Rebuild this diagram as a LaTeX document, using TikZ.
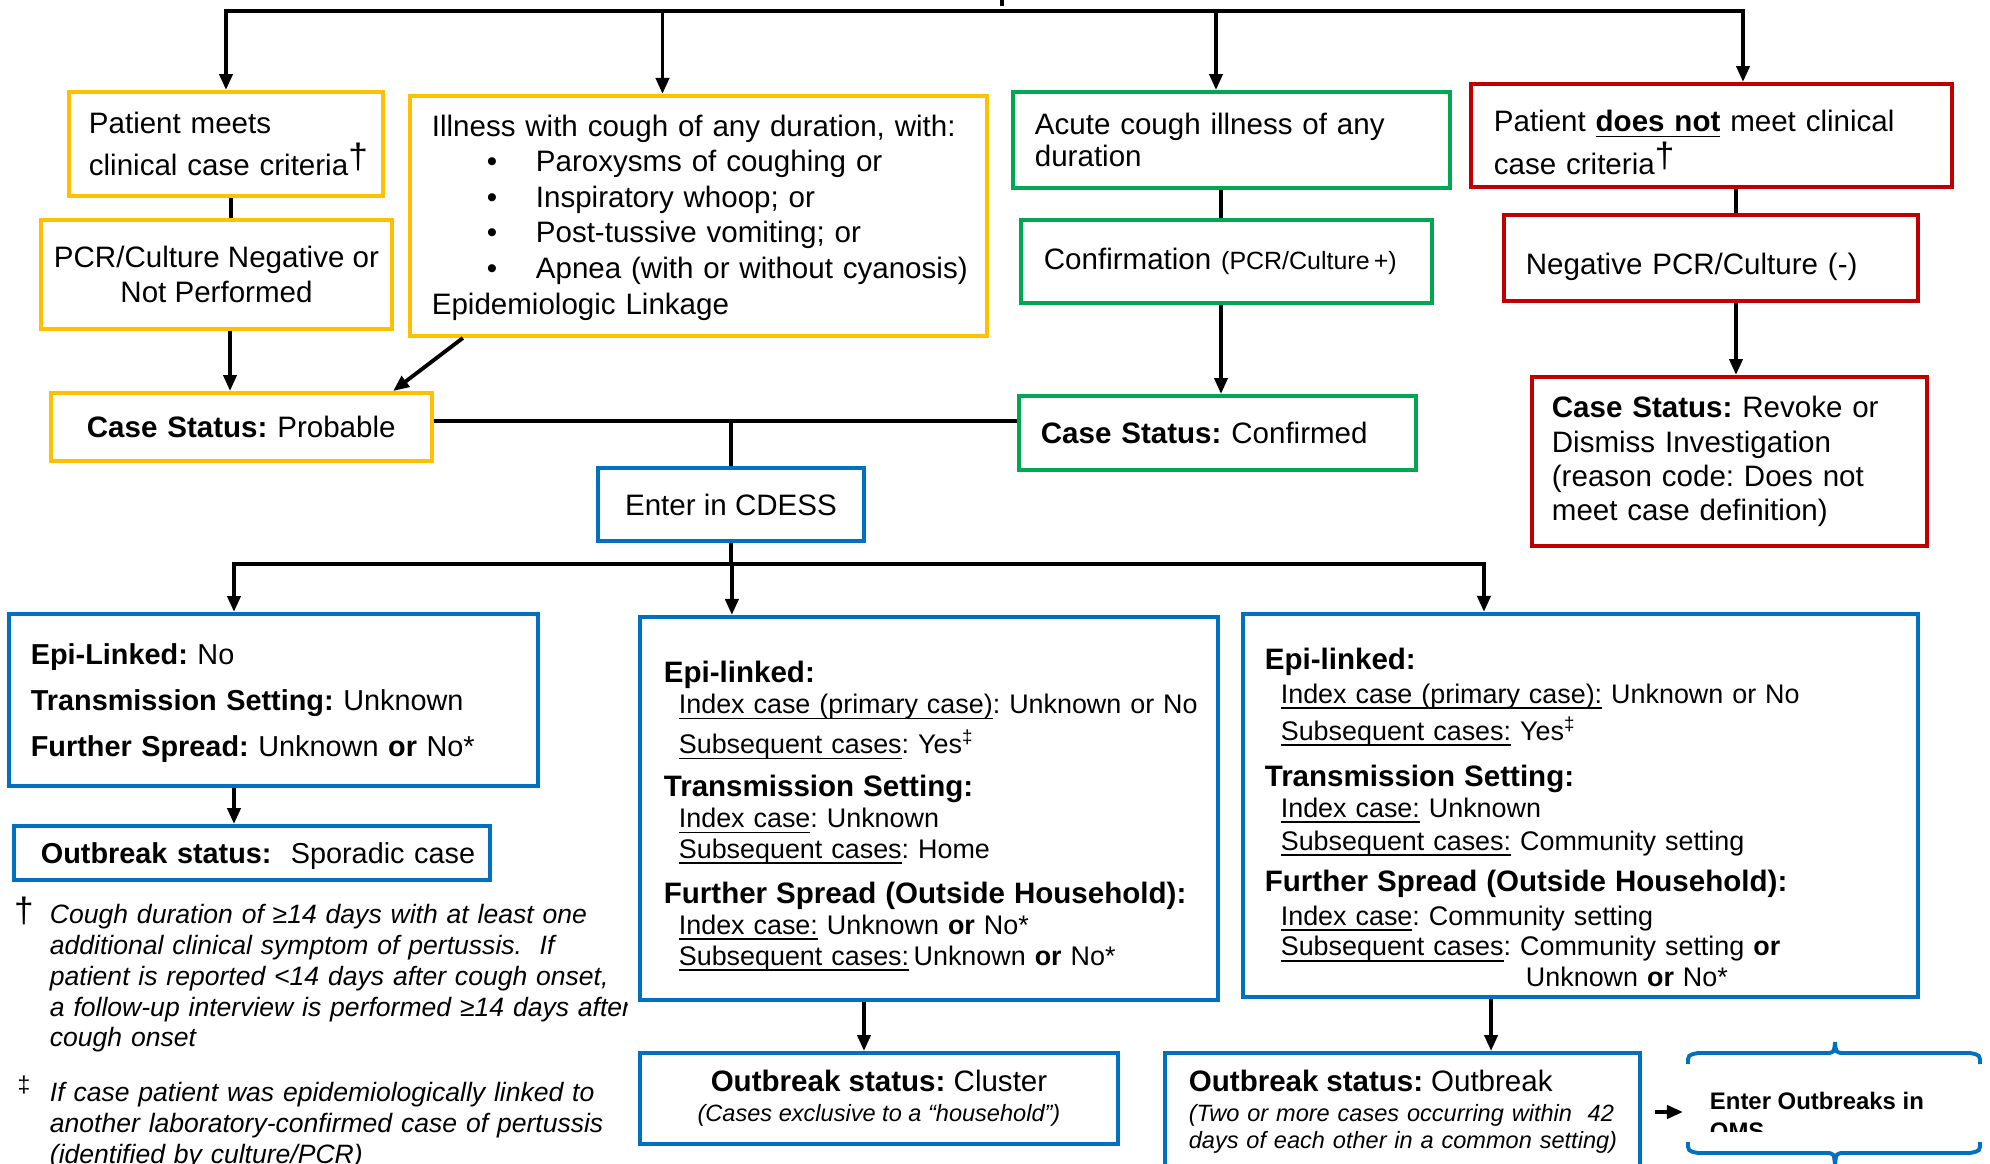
\documentclass[tikz,border=0pt]{standalone}
\usepackage{fontspec}
\setmainfont{Liberation Sans}
\usetikzlibrary{arrows.meta}
\definecolor{gold}{HTML}{FFC000}
\definecolor{okgreen}{HTML}{00A651}
\definecolor{darkred}{HTML}{C00000}
\definecolor{cdblue}{HTML}{0070C0}
\frenchspacing

\begin{document}
\begin{tikzpicture}[x=0.01cm, y=-0.01cm, line width=1.1pt,
    >={Triangle[length=.16cm,width=.13cm]},
    cbox/.style={draw, inner sep=0pt, align=left, font=\fontsize{8.4}{10}\selectfont},
    boxsize/.style 2 args={minimum width=#1, text width=#1, minimum height=#2},
    lpad/.style={execute at begin node={\leftskip=#1}},
    yellowbox/.style={cbox, draw=gold},
    greenbox/.style={cbox, draw=okgreen},
    redbox/.style={cbox, draw=darkred},
    bluebox/.style={cbox, draw=cdblue},
    note/.style={inner sep=0pt, anchor=north west, align=left, text width=7cm,
      font=\itshape\fontsize{7.55}{8.8}\selectfont}]
  \useasboundingbox (0,0) rectangle (1990,1164);
  \clip (0,0) rectangle (1990,1164);

  \node[yellowbox, boxsize={3.14cm}{1.04cm}, lpad=.2cm, font=\fontsize{8.4}{11.7}\selectfont] (meets) at (226,144)
    {Patient meets\\clinical case criteria\raisebox{.07cm}{\fontsize{10}{10}\selectfont †}};
  \node[yellowbox, boxsize={5.77cm}{2.40cm}, lpad=.22cm, font=\fontsize{8.4}{10.1}\selectfont] (illness) at (698.5,216)
    {\rule{0pt}{7pt}Illness with cough of any duration, with:\\
     \hspace*{.55cm}\makebox[.49cm][l]{•}Paroxysms of coughing or\\
     \hspace*{.55cm}\makebox[.49cm][l]{•}Inspiratory whoop; or\\
     \hspace*{.55cm}\makebox[.49cm][l]{•}Post-tussive vomiting; or\\
     \hspace*{.55cm}\makebox[.49cm][l]{•}Apnea (with or without cyanosis)\\
     Epidemiologic Linkage};
  \node[yellowbox, minimum width=3.51cm, minimum height=1.09cm, align=center, font=\fontsize{8.4}{9.7}\selectfont] (pcr) at (216.5,274.5)
    {PCR/Culture Negative or\\Not Performed};
  \node[yellowbox, boxsize={3.81cm}{.68cm}, lpad=.36cm] (probable) at (241.5,427)
    {\textbf{Case Status:} Probable};
  \node[bluebox, minimum width=2.66cm, minimum height=.73cm, align=center] (cdess) at (731,504.5)
    {Enter in CDESS};

  \node[greenbox, boxsize={4.37cm}{.96cm}, lpad=.22cm, font=\fontsize{8.4}{9.1}\selectfont] (acute) at (1231.5,140)
    {Acute cough illness of any\\duration};
  \node[greenbox, boxsize={4.11cm}{.83cm}, lpad=.23cm] (confirmation) at (1226.5,261.5)
    {Confirmation {\fontsize{7.1}{8}\selectfont(PCR/Culture\,+)}};
  \node[greenbox, boxsize={3.97cm}{.74cm}, lpad=.22cm] (confirmed) at (1217.5,433)
    {\textbf{Case Status:} Confirmed};

  \node[redbox, boxsize={4.81cm}{1.03cm}, lpad=.23cm, font=\fontsize{8.4}{10.8}\selectfont] (notmeet) at (1711.5,135.5)
    {\rule{0pt}{10pt}Patient \underline{\smash{\textbf{does not}}} meet clinical\\case criteria\raisebox{.07cm}{\fontsize{10}{10}\selectfont †}};
  \node[redbox, boxsize={4.14cm}{.86cm}, lpad=.22cm] (negative) at (1711,258)
    {\rule{0pt}{11pt}Negative PCR/Culture (-)};
  \node[redbox, boxsize={3.95cm}{1.69cm}, lpad=.2cm, font=\fontsize{8.4}{9.7}\selectfont] (revoke) at (1729.5,461.5)
    {\textbf{Case Status:} Revoke or\\Dismiss Investigation\\(reason code: Does not\\meet case definition)};

  \node[bluebox, boxsize={5.29cm}{1.72cm}, lpad=.22cm, font=\fontsize{8.2}{13.1}\selectfont] (nolink) at (273.5,700)
    {\rule{0pt}{7.5pt}\textbf{Epi-Linked:} No\\\textbf{Transmission Setting:} Unknown\\\textbf{Further Spread:} Unknown \textbf{or} No*};
  \node[bluebox, boxsize={4.76cm}{.54cm}, lpad=.27cm, font=\fontsize{8.2}{10}\selectfont] (sporadic) at (252,853)
    {\rule{0pt}{7.5pt}\textbf{Outbreak status:}\ \ Sporadic case};

  \node[bluebox, boxsize={5.78cm}{3.83cm}, lpad=.24cm, font=\fontsize{7.65}{8.8}\selectfont] (household) at (929,808.5)
    {\rule{0pt}{10.7pt}{\bfseries\fontsize{8.4}{8.8}\selectfont Epi-linked:}\\
     \hspace*{.15cm}\underline{\smash{Index case (primary case)}}: Unknown or No\\[2.6pt]
     \hspace*{.15cm}\underline{\smash{Subsequent cases}}: Yes\textsuperscript{‡}\\[3.4pt]
     {\bfseries\fontsize{8.4}{8.8}\selectfont Transmission Setting:}\\
     \hspace*{.15cm}\underline{\smash{Index case}}: Unknown\\
     \hspace*{.15cm}\underline{\smash{Subsequent cases}}: Home\\[4pt]
     {\bfseries\fontsize{8.4}{8.8}\selectfont Further Spread (Outside Household):}\\
     \hspace*{.15cm}\underline{\smash{Index case:}} Unknown \textbf{or} No*\\
     \hspace*{.15cm}\underline{\smash{Subsequent cases:}}\,Unknown \textbf{or} No*};
  \node[bluebox, boxsize={6.75cm}{3.83cm}, lpad=.22cm, font=\fontsize{7.65}{8.8}\selectfont] (community) at (1580.5,805.5)
    {\rule{0pt}{12.9pt}{\bfseries\fontsize{8.4}{8.8}\selectfont Epi-linked:}\\[.85pt]
     \hspace*{.16cm}\underline{\smash{Index case (primary case):}} Unknown or No\\[1.7pt]
     \hspace*{.16cm}\underline{\smash{Subsequent cases:}} Yes\textsuperscript{‡}\\[4.3pt]
     {\bfseries\fontsize{8.4}{8.8}\selectfont Transmission Setting:}\\
     \hspace*{.16cm}\underline{\smash{Index case:}} Unknown\\[.6pt]
     \hspace*{.16cm}\underline{\smash{Subsequent cases:}} Community setting\\[3.1pt]
     {\bfseries\fontsize{8.4}{8.8}\selectfont Further Spread (Outside Household):}\\[.6pt]
     \hspace*{.16cm}\underline{\smash{Index case}}: Community setting\\
     \hspace*{.16cm}\underline{\smash{Subsequent cases}}: Community setting \textbf{or}\\
     \hspace*{2.61cm}Unknown \textbf{or} No*};

  \node[bluebox, minimum width=4.78cm, minimum height=.91cm, align=center, font=\fontsize{8.4}{8.5}\selectfont] (cluster) at (879,1098.5)
    {\textbf{Outbreak status:} Cluster\\{\itshape\fontsize{6.7}{8}\selectfont (Cases exclusive to a “household”)}};
  \node[bluebox, boxsize={4.75cm}{1.18cm}, lpad=.24cm, font=\itshape\fontsize{6.7}{7.7}\selectfont] (outbreak) at (1402.5,1112)
    {{\upshape\fontsize{8.4}{7.7}\selectfont\textbf{Outbreak status:} Outbreak}\\[.8pt]
     (Two or more cases occurring within\ \ 42\\days of each other in a common setting)};

  \begin{scope}
    \clip (1688,1043) rectangle (1980,1131);
    \node[inner sep=0pt, anchor=north west, align=left, font=\bfseries\fontsize{6.8}{8.5}\selectfont] (oms) at (1708,1090)
      {Enter Outbreaks in\\OMS};
  \end{scope}
  \draw[cdblue] (1688,1064) .. controls (1688,1055) .. (1698,1053) -- (1825,1053)
    .. controls (1834,1053) .. (1835,1042) .. controls (1836,1053) .. (1845,1053) -- (1970,1053)
    .. controls (1980,1055) .. (1980,1064);
  \draw[cdblue] (1688,1142) .. controls (1688,1151) .. (1698,1153) -- (1825,1153)
    .. controls (1834,1153) .. (1835,1166) .. controls (1836,1153) .. (1845,1153) -- (1970,1153)
    .. controls (1980,1151) .. (1980,1142);

  \begin{scope}
    \clip (0,880) rectangle (627,1164);
    \node[note] (note1) at (48,902)
      {Cough duration of ≥14 days with at least one\\additional clinical symptom of pertussis.\ \ If\\patient is reported <14 days after cough onset,\\a follow-up interview is performed ≥14 days after\\cough onset};
  \end{scope}
  \node[note] (note2) at (48,1080)
    {If case patient was epidemiologically linked to\\another laboratory-confirmed case of pertussis\\(identified by culture/PCR)};
  \node[inner sep=0pt, font=\fontsize{10}{10}\selectfont] (dag1) at (24,911) {†};
  \node[inner sep=0pt, font=\fontsize{6.5}{6.5}\selectfont] (dag2) at (24,1085) {‡};

  \coordinate (feed) at (1002,-20);
  \coordinate (feedend) at (1002,6);
  \coordinate (split) at (1002,11);
  \draw (feed) -- (feedend);
  \draw[->] (split) -| (meets.north);
  \draw[->] (split) -| ([xshift=-.36cm]illness.north);
  \draw[->] (split) -| ([xshift=-.155cm]acute.north);
  \draw[->] (split) -| ([xshift=.315cm]notmeet.north);

  \draw ([xshift=.05cm]meets.south) -- ([xshift=.05cm]meets.south |- pcr.north);
  \draw[->] ([xshift=.135cm]pcr.south) -- ([xshift=.135cm]pcr.south |- probable.north);
  \draw[->] ([xshift=-2.355cm]illness.south) -- ([xshift=1.515cm]probable.north);
  \draw ([xshift=.035cm]confirmed.north |- acute.south) -- ([xshift=.035cm]confirmed.north |- confirmation.north);
  \draw[->] ([xshift=.035cm]confirmed.north |- confirmation.south) -- ([xshift=.035cm]confirmed.north);
  \draw ([xshift=.065cm]revoke.north |- notmeet.south) -- ([xshift=.065cm]revoke.north |- negative.north);
  \draw[->] ([xshift=.065cm]revoke.north |- negative.south) -- ([xshift=.065cm]revoke.north);

  \draw ([yshift=.06cm]probable.east) -- ([yshift=.06cm]probable.east -| confirmed.west);
  \draw ([yshift=.06cm]cdess.north |- probable.east) -- (cdess.north);

  \coordinate (fork) at (731,564);
  \draw (cdess.south) -- (fork);
  \draw[->] (fork) -| ([xshift=-.395cm]nolink.north);
  \draw[->] (fork) -| ([xshift=-1.97cm]household.north);
  \draw[->] (fork) -| ([xshift=-.965cm]community.north);

  \draw[->] ([xshift=-.18cm]sporadic.north |- nolink.south) -- ([xshift=-.18cm]sporadic.north);
  \draw[->] ([xshift=-.15cm]cluster.north |- household.south) -- ([xshift=-.15cm]cluster.north);
  \draw[->] ([xshift=.885cm]outbreak.north |- community.south) -- ([xshift=.885cm]outbreak.north);
  \draw[->] ([xshift=.13cm]outbreak.east) -- ([xshift=-.25cm]outbreak.east -| oms.west);
\end{tikzpicture}
\end{document}
